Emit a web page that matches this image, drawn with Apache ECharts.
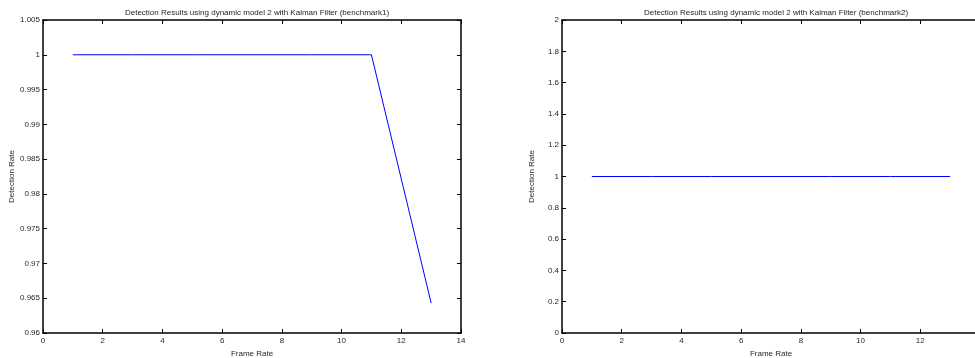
<!DOCTYPE html>
<html>
<head>
<meta charset="utf-8">
<script src="https://cdn.jsdelivr.net/npm/echarts@6/dist/echarts.min.js"></script>
<style>
html,body{margin:0;padding:0;background:#fff;}
#chart{width:975px;height:358px;}
</style>
</head>
<body>
<div id="chart"></div>
<script>
// ---- data ----
var titles = [
  "Detection Results using dynamic model 2 with Kalman Filter (benchmark1)",
  "Detection Results using dynamic model 2 with Kalman Filter (benchmark2)"
];
var xName = "Frame Rate";
var yName = "Detection Rate";
var frameRates1 = [1, 3, 5, 7, 9, 11, 13];
var detection1 = [1, 1, 1, 1, 1, 1, 0.9643];
var frameRates2 = [1, 3, 5, 7, 9, 11, 13];
var detection2 = [1, 1, 1, 1, 1, 1, 1];
var xRange = [0, 14, 2];
var yRange1 = [0.96, 1.005, 0.005];
var yRange2 = [0, 2, 0.2];

// ---- chart ----
var FONT = "Liberation Sans, Arial, Helvetica, sans-serif";
var TXT = "#262626";
function pairs(xs, ys){ return xs.map(function(x,i){ return [x, ys[i]]; }); }

function xAx(gi, pos, showLabel){
  return {
    type:'value', gridIndex:gi, position:pos,
    min:xRange[0], max:xRange[1], interval:xRange[2],
    name: showLabel ? xName : '', nameLocation:'middle', nameGap:8,
    nameTextStyle:{fontFamily:FONT, fontSize:8, color:TXT},
    axisLine:{show:true, onZero:false, lineStyle:{color:'#000', width:1.5}},
    axisTick:{show:true, inside:true, length:4, lineStyle:{color:'#000'}},
    axisLabel:{show:showLabel, fontFamily:FONT, fontSize:8, color:TXT, margin:4},
    splitLine:{show:false}
  };
}
function yAx(gi, pos, showLabel, r){
  return {
    type:'value', gridIndex:gi, position:pos,
    min:r[0], max:r[1], interval:r[2],
    name: showLabel ? yName : '', nameLocation:'middle', nameGap:26, nameRotate:90,
    nameTextStyle:{fontFamily:FONT, fontSize:8, color:TXT},
    axisLine:{show:true, onZero:false, lineStyle:{color:'#000', width:1.5}},
    axisTick:{show:true, inside:true, length:4, lineStyle:{color:'#000'}},
    axisLabel:{show:showLabel, fontFamily:FONT, fontSize:8, color:TXT, margin:3},
    splitLine:{show:false}
  };
}

var chart = echarts.init(document.getElementById('chart'), null, {renderer:'canvas'});
chart.setOption({
  animation:false,
  backgroundColor:'#fff',
  title:[
    {text:titles[0], left:252, top:4, textAlign:'center',
     textStyle:{fontFamily:FONT, fontSize:8, fontWeight:'normal', color:TXT}},
    {text:titles[1], left:771, top:4, textAlign:'center',
     textStyle:{fontFamily:FONT, fontSize:8, fontWeight:'normal', color:TXT}}
  ],
  grid:[
    {left:43, top:20, width:418, height:313, outerBoundsMode:'none', containLabel:false},
    {left:562, top:20, width:418, height:313, outerBoundsMode:'none', containLabel:false}
  ],
  xAxis:[ xAx(0,'bottom',true), xAx(0,'top',false), xAx(1,'bottom',true), xAx(1,'top',false) ],
  yAxis:[ yAx(0,'left',true,yRange1), yAx(0,'right',false,yRange1), yAx(1,'left',true,yRange2), yAx(1,'right',false,yRange2) ],
  series:[
    {type:'line', xAxisIndex:0, yAxisIndex:0, data:pairs(frameRates1, detection1),
     showSymbol:false, lineStyle:{color:'#0000ff', width:1}},
    {type:'line', xAxisIndex:2, yAxisIndex:2, data:pairs(frameRates2, detection2),
     showSymbol:false, lineStyle:{color:'#0000ff', width:1}}
  ]
});
</script>
</body>
</html>
